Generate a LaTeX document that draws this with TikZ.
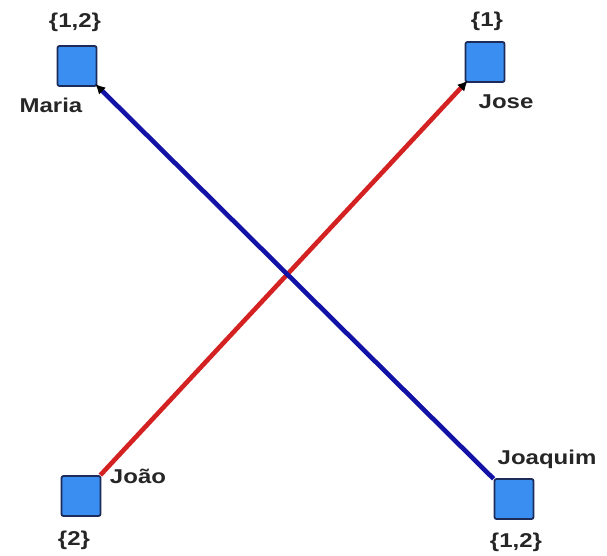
\documentclass[tikz,border=0pt]{standalone}
\usepackage{fontspec}
\setmainfont{Liberation Sans}
\usetikzlibrary{arrows.meta,positioning}
\definecolor{Box}{HTML}{3A8EF2}
\definecolor{BoxLine}{HTML}{1C2B58}
\definecolor{Navy}{HTML}{1212A6}
\definecolor{Crimson}{HTML}{D42222}
\tikzset{
  person/.style={draw=BoxLine,fill=Box,line width=1.8pt,rounded corners=2pt,minimum width=39pt,minimum height=40pt,inner sep=0pt},
  lbl/.style={font=\fontsize{20}{22}\selectfont\bfseries,text=black!85,inner sep=0pt,xscale=1.2},
  link/.style={-{Latex[color=black,length=10pt,width=10pt]},line width=4.6pt,shorten >=-3pt}
}
\begin{document}
\begin{tikzpicture}[x=1pt,y=-1pt]
  \useasboundingbox (0,0) rectangle (607,556);
  \node[person] (maria) at (77,66) {};
  \node[person] (jose) at (485,62) {};
  \node[person] (joao) at (81,496) {};
  \node[person] (joaquim) at (514,499) {};
  \node[lbl] (mariaset) at (75,22) {\{1,2\}};
  \node[lbl] (marianame) at (51,105) {Maria};
  \node[lbl] (joseset) at (487,21) {\{1\}};
  \node[lbl] (josename) at (506,102) {Jose};
  \node[lbl] (joaoname) at (138,476) {João};
  \node[lbl] (joaoset) at (74,540) {\{2\}};
  \node[lbl] (joaquimname) at (547,459) {Joaquim};
  \node[lbl] (joaquimset) at (516,542) {\{1,2\}};
  \draw[link,draw=Crimson] (joao) -- (jose);
  \draw[link,draw=Navy] (joaquim) -- (maria);
\end{tikzpicture}
\end{document}
